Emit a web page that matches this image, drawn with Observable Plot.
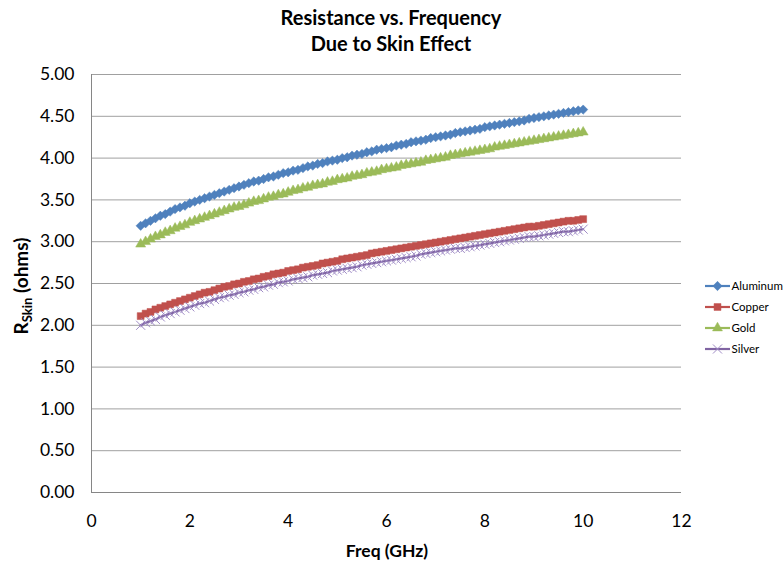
<!DOCTYPE html>
<html>
<head>
<meta charset="utf-8">
<script src="https://cdn.jsdelivr.net/npm/d3@7"></script>
<script src="https://cdn.jsdelivr.net/npm/@observablehq/plot@0.6"></script>
<style>
  html, body { margin: 0; padding: 0; background: #fff; }
  #chart { width: 783px; height: 569px; }
</style>
</head>
<body>
<div id="chart"></div>
<script>
const freq = [
  1.0,1.1,1.2,1.3,1.4,1.5,1.6,1.7,1.8,1.9,
  2.0,2.1,2.2,2.3,2.4,2.5,2.6,2.7,2.8,2.9,
  3.0,3.1,3.2,3.3,3.4,3.5,3.6,3.7,3.8,3.9,
  4.0,4.1,4.2,4.3,4.4,4.5,4.6,4.7,4.8,4.9,
  5.0,5.1,5.2,5.3,5.4,5.5,5.6,5.7,5.8,5.9,
  6.0,6.1,6.2,6.3,6.4,6.5,6.6,6.7,6.8,6.9,
  7.0,7.1,7.2,7.3,7.4,7.5,7.6,7.7,7.8,7.9,
  8.0,8.1,8.2,8.3,8.4,8.5,8.6,8.7,8.8,8.9,
  9.0,9.1,9.2,9.3,9.4,9.5,9.6,9.7,9.8,9.9,
  10.0
];
const aluminum = [
  3.19,3.22,3.25,3.28,3.31,3.33,3.36,3.39,3.41,3.43,
  3.46,3.48,3.50,3.52,3.54,3.56,3.58,3.60,3.62,3.64,
  3.66,3.68,3.70,3.72,3.73,3.75,3.77,3.78,3.80,3.82,
  3.83,3.85,3.86,3.88,3.90,3.91,3.93,3.94,3.96,3.97,
  3.98,4.00,4.01,4.03,4.04,4.05,4.07,4.08,4.10,4.11,
  4.12,4.13,4.15,4.16,4.17,4.19,4.20,4.21,4.22,4.24,
  4.25,4.26,4.27,4.28,4.30,4.31,4.32,4.33,4.34,4.35,
  4.37,4.38,4.39,4.40,4.41,4.42,4.43,4.44,4.45,4.47,
  4.48,4.49,4.50,4.51,4.52,4.53,4.54,4.55,4.56,4.57,
  4.58
];
const copper = [
  2.11,2.14,2.16,2.19,2.21,2.23,2.25,2.27,2.29,2.31,
  2.33,2.35,2.37,2.39,2.40,2.42,2.44,2.46,2.47,2.49,
  2.50,2.52,2.53,2.55,2.56,2.58,2.59,2.61,2.62,2.63,
  2.65,2.66,2.67,2.69,2.70,2.71,2.72,2.74,2.75,2.76,
  2.77,2.79,2.80,2.81,2.82,2.83,2.84,2.86,2.87,2.88,
  2.89,2.90,2.91,2.92,2.93,2.94,2.95,2.96,2.97,2.98,
  2.99,3.00,3.01,3.02,3.03,3.04,3.05,3.06,3.07,3.08,
  3.09,3.10,3.11,3.12,3.13,3.14,3.15,3.16,3.17,3.18,
  3.18,3.19,3.20,3.21,3.22,3.23,3.24,3.25,3.25,3.26,
  3.27
];
const gold = [
  2.97,3.00,3.03,3.06,3.08,3.11,3.13,3.16,3.18,3.20,
  3.23,3.25,3.27,3.29,3.31,3.33,3.35,3.37,3.39,3.41,
  3.42,3.44,3.46,3.48,3.49,3.51,3.53,3.54,3.56,3.57,
  3.59,3.61,3.62,3.64,3.65,3.67,3.68,3.69,3.71,3.72,
  3.74,3.75,3.76,3.78,3.79,3.80,3.82,3.83,3.84,3.86,
  3.87,3.88,3.89,3.91,3.92,3.93,3.94,3.95,3.97,3.98,
  3.99,4.00,4.01,4.03,4.04,4.05,4.06,4.07,4.08,4.09,
  4.10,4.11,4.13,4.14,4.15,4.16,4.17,4.18,4.19,4.20,
  4.21,4.22,4.23,4.24,4.25,4.26,4.27,4.28,4.29,4.30,
  4.31
];
const silver = [
  2.00,2.03,2.05,2.07,2.10,2.12,2.14,2.16,2.18,2.20,
  2.22,2.24,2.26,2.27,2.29,2.31,2.33,2.34,2.36,2.37,
  2.39,2.40,2.42,2.43,2.45,2.46,2.48,2.49,2.51,2.52,
  2.53,2.55,2.56,2.57,2.58,2.60,2.61,2.62,2.63,2.65,
  2.66,2.67,2.68,2.69,2.70,2.72,2.73,2.74,2.75,2.76,
  2.77,2.78,2.79,2.80,2.81,2.82,2.83,2.85,2.86,2.87,
  2.88,2.89,2.90,2.91,2.92,2.92,2.93,2.94,2.95,2.96,
  2.97,2.98,2.99,3.00,3.01,3.02,3.03,3.04,3.05,3.06,
  3.06,3.07,3.08,3.09,3.10,3.11,3.12,3.12,3.13,3.14,
  3.15
];
const seriesNames = ["Aluminum", "Copper", "Gold", "Silver"];
const seriesValues = [aluminum, copper, gold, silver];
const seriesColors = ["#4F81BD", "#C0504D", "#9BBB59", "#8064A2"];
const seriesSymbols = ["diamond2", "square", "triangle", "times"];
const xTicks = [0, 2, 4, 6, 8, 10, 12];
const yTicks = [0, 0.5, 1, 1.5, 2, 2.5, 3, 3.5, 4, 4.5, 5];

const FONT = "Lato, 'Open Sans', sans-serif";

const tables = seriesNames.map((name, i) =>
  freq.map((f, j) => ({series: name, freq: f, r: seriesValues[i][j]}))
);

const markR = {diamond2: 4.2, square: 3.9, triangle: 3.7, times: 4.2};
const silverMarker = "#a08cc6";

const marks = [
  Plot.gridY(yTicks.slice(1), {stroke: "#a0a0a0", strokeOpacity: 1}),
  Plot.ruleX([0], {stroke: "#868686"}),
  Plot.ruleY([0], {stroke: "#868686"}),
  Plot.axisY({ticks: yTicks, tickSize: 0, tickPadding: 17, tickFormat: d3.format(".2f"), fontSize: 17.5, label: null}),
  Plot.axisX({ticks: xTicks, tickSize: 0, tickPadding: 22, fontSize: 17.5, label: null})
];
tables.forEach((t, i) => {
  const sym = seriesSymbols[i];
  marks.push(Plot.line(t, {x: "freq", y: "r", stroke: seriesColors[i], strokeWidth: 2.2}));
  if (sym === "times") {
    marks.push(Plot.dot(t, {x: "freq", y: "r", symbol: sym, r: markR[sym], stroke: silverMarker, strokeWidth: 1, fill: "none"}));
  } else {
    marks.push(Plot.dot(t, {x: "freq", y: "r", symbol: sym, r: markR[sym], fill: seriesColors[i], stroke: seriesColors[i], strokeWidth: 0.5}));
  }
});

const chart = Plot.plot({
  width: 783,
  height: 569,
  marginLeft: 91,
  marginRight: 102,
  marginTop: 74,
  marginBottom: 77,
  style: {fontFamily: FONT, fontSize: "16px", color: "#000", background: "#fff"},
  x: {domain: [0, 12]},
  y: {domain: [0, 5]},
  marks
});

const svg = d3.select(chart);

// Title
const title = svg.append("text")
  .attr("text-anchor", "middle")
  .attr("font-family", FONT)
  .attr("font-weight", "bold")
  .attr("font-size", 20)
  .attr("fill", "#000");
title.append("tspan").attr("x", 391).attr("y", 25).text("Resistance vs. Frequency");
title.append("tspan").attr("x", 391).attr("y", 51).text("Due to Skin Effect");

// X axis title
svg.append("text")
  .attr("x", 387).attr("y", 557)
  .attr("text-anchor", "middle")
  .attr("font-family", FONT)
  .attr("font-weight", "bold")
  .attr("font-size", 17.5)
  .text("Freq (GHz)");

// Y axis title with subscript
const yl = svg.append("text")
  .attr("transform", "translate(28,286) rotate(-90)")
  .attr("text-anchor", "middle")
  .attr("font-family", FONT)
  .attr("font-weight", "bold")
  .attr("font-size", 19);
yl.append("tspan").text("R");
yl.append("tspan").attr("font-size", 13).attr("dy", 4).text("Skin");
yl.append("tspan").attr("dy", -4).text(" (ohms)");

// Legend
const legend = svg.append("g")
  .attr("font-family", FONT)
  .attr("font-size", 11.5)
  .attr("text-anchor", "start");
seriesNames.forEach((name, i) => {
  const y = 286 + i * 21;
  const g = legend.append("g");
  g.append("line").attr("x1", 705).attr("x2", 730).attr("y1", y).attr("y2", y)
    .attr("stroke", seriesColors[i]).attr("stroke-width", 2.2);
  const sym = seriesSymbols[i];
  const d3sym = {diamond2: d3.symbolDiamond2, square: d3.symbolSquare, triangle: d3.symbolTriangle, times: d3.symbolTimes}[sym];
  const size = Math.PI * markR[sym] * markR[sym];
  const p = g.append("path").attr("transform", `translate(717.5,${y})`)
    .attr("d", d3.symbol(d3sym, size)());
  if (sym === "times") p.attr("fill", "none").attr("stroke", silverMarker).attr("stroke-width", 1);
  else p.attr("fill", seriesColors[i]).attr("stroke", seriesColors[i]).attr("stroke-width", 0.5);
  g.append("text").attr("x", 731.5).attr("y", y + 4).attr("fill", "#000").text(name);
});

document.getElementById("chart").appendChild(chart);
</script>
</body>
</html>
